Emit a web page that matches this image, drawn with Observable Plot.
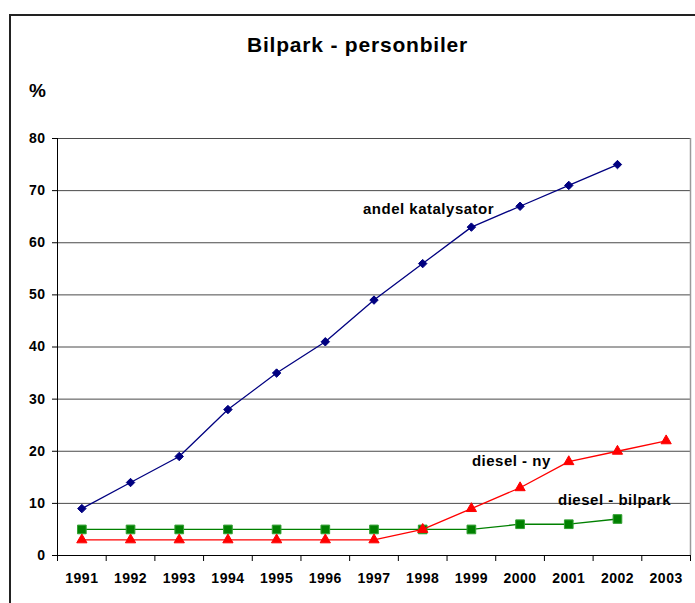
<!DOCTYPE html>
<html><head><meta charset="utf-8">
<script src="https://cdn.jsdelivr.net/npm/d3@7"></script>
<script src="https://cdn.jsdelivr.net/npm/@observablehq/plot@0.6"></script>
<style>
body{margin:0;background:#fff;font-family:"Liberation Sans",Arial,sans-serif;}
#wrap{position:relative;width:695px;height:603px;overflow:hidden;background:#fff;}
#frame{position:absolute;left:9px;top:14px;width:800px;height:800px;border-left:2px solid #222;border-top:2px solid #222;}
#title{position:absolute;left:0;width:715px;top:33px;text-align:center;font-weight:bold;font-size:21px;letter-spacing:0.8px;color:#000;}
#pct{position:absolute;left:29px;top:80px;font-weight:bold;font-size:19px;color:#000;}
#chart{position:absolute;left:0;top:100px;}
</style>
</head><body>
<div id="wrap">
  <div id="frame"></div>
  <div id="title">Bilpark - personbiler</div>
  <div id="pct">%</div>
  <div id="chart"></div>
</div>
<script>
const years = [1991,1992,1993,1994,1995,1996,1997,1998,1999,2000,2001,2002,2003];
const katalysator = [9,14,19,28,35,41,49,56,63,67,71,75];
const dieselNy = [3,3,3,3,3,3,3,5,9,13,18,20,22];
const dieselBilpark = [5,5,5,5,5,5,5,5,5,6,6,7];
const yTicks = [0,10,20,30,40,50,60,70,80];
const annotations = [
  {text:"andel katalysator", year:1998.12, value:66.4},
  {text:"diesel - ny", year:1999.82, value:18.0},
  {text:"diesel - bilpark", year:2001.94, value:10.7}
];

const table = arr => arr.map((v,i)=>({year:years[i], value:v}));
const boundaries = years.map(y=>y-0.5).concat([years[years.length-1]+0.5]);
const x0 = years[0]-0.5, x1 = years[years.length-1]+0.5;

const chart = Plot.plot({
  width:695, height:503,
  marginLeft:57, marginRight:5, marginTop:38, marginBottom:48,
  x:{domain:[x0,x1]},
  y:{domain:[0,80]},
  style:{fontFamily:'"Liberation Sans",Arial,sans-serif', fontSize:"14px", fontWeight:"bold", letterSpacing:"0.5px", color:"#000", background:"transparent"},
  marks:[
    Plot.ruleY(yTicks.slice(1), {stroke:"#4a4a4a", strokeWidth:1}),
    Plot.ruleX([x1], {stroke:"#9a9a9a", strokeWidth:1.5}),
    Plot.axisY({ticks:yTicks, tickSize:5, tickPadding:7, label:null}),
    Plot.ruleX([x0], {stroke:"#000"}),
    Plot.ruleY([0], {stroke:"#000"}),
    Plot.axisX({ticks:boundaries, tickSize:6, tickFormat:()=>"", label:null}),
    Plot.axisX({ticks:years, tickSize:0, tickPadding:18, tickFormat:d=>String(d), label:null}),
    Plot.line(table(katalysator), {x:"year", y:"value", stroke:"#000080", strokeWidth:1.3}),
    Plot.dot(table(katalysator), {x:"year", y:"value", symbol:"diamond2", r:3.8, fill:"#000080", stroke:"#000080", strokeWidth:1}),
    Plot.line(table(dieselBilpark), {x:"year", y:"value", stroke:"#008000", strokeWidth:1.3}),
    Plot.dot(table(dieselBilpark), {x:"year", y:"value", symbol:"square", r:4.9, fill:"#008000", stroke:"#33a033", strokeWidth:1}),
    Plot.line(table(dieselNy), {x:"year", y:"value", stroke:"#ff0000", strokeWidth:1.3}),
    Plot.dot(table(dieselNy), {x:"year", y:"value", symbol:"triangle", r:3.8, fill:"#ff0000", stroke:"#ff0000", strokeWidth:1}),
    Plot.text(annotations, {x:"year", y:"value", text:"text", fill:"#000", fontSize:15, fontWeight:"bold", textAnchor:"middle", style:"letter-spacing:0.6px"})
  ]
});
document.getElementById("chart").appendChild(chart);
</script>
</body></html>
